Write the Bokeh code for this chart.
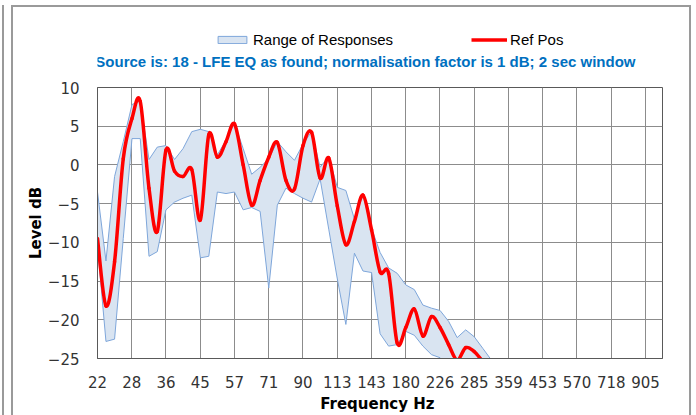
import math
from bokeh.plotting import figure
from bokeh.layouts import column
from bokeh.models import Range1d, FixedTicker, Legend, LegendItem, Label
from bokeh.embed import file_html
from bokeh.resources import INLINE

# ---- data ----
freq_hz = [22.0, 23.3, 24.7, 26.2, 27.8, 29.4, 31.2, 33.0, 35.0, 37.1, 39.3, 41.7,
           44.2, 46.8, 49.6, 52.6, 55.7, 59.1, 62.6, 66.3, 70.3, 74.5, 79.0, 83.7,
           88.7, 94.0, 99.6, 105.6, 111.9, 118.6, 125.7, 133.2, 141.2, 149.6, 158.5,
           168.0, 178.1, 188.7, 200.0, 212.0, 224.7, 238.1, 252.3, 267.4, 283.4,
           300.4, 318.3]

range_upper = [-3.5, -12.4, -1.5, 3.0, 7.8, 8.3, 0.7, 2.3, 2.5, 0.7, 2.1, 4.3,
               4.6, 4.3, 1.3, 3.2, 5.4, 2.1, -1.2, -0.3, 0.8, 3.0, 1.7, 0.6,
               2.7, 4.3, -0.3, 1.1, -2.9, -3.3, -7.0, -3.9, -8.2, -11.3, -13.3,
               -14.0, -15.5, -16.1, -18.1, -18.5, -18.8, -20.2, -22.3, -21.3, -22.2,
               -23.7, -25.2]

range_lower = [-10.5, -22.8, -22.5, -9.5, 3.4, 3.4, -11.8, -11.2, -5.8, -4.8, -4.3, -3.9,
               -12.0, -11.8, -3.5, -3.7, -3.5, -5.8, -5.5, -6.0, -15.9, -5.2, -3.0, -3.7,
               -4.3, -4.8, -1.8, -8.3, -14.7, -20.6, -11.4, -13.7, -13.9, -21.8, -23.4,
               -23.2, -21.5, -22.0, -23.4, -24.5, -24.9, -26.0, -26.0, -26.0, -26.0,
               -26.0, -26.0]

ref_pos = [-9.5, -18.2, -12.5, 0.8, 6.0, 8.2, -3.0, -8.6, 1.9, -0.8, -1.5, -0.6,
           -7.1, 3.9, 1.0, 3.0, 5.3, 0.0, -5.2, -2.0, 1.0, 2.9, -2.0, -3.1,
           2.5, 4.2, -1.7, 0.9, -5.3, -10.3, -7.3, -3.9, -8.4, -13.8, -14.0,
           -23.0, -21.0, -18.6, -22.1, -19.6, -21.0, -23.2, -25.2, -23.6, -24.1,
           -25.3, -25.5]

tick_labels = ["22", "28", "36", "45", "57", "71", "90", "113", "143", "180",
               "226", "285", "359", "453", "570", "718", "905"]
y_ticks = [-25, -20, -15, -10, -5, 0, 5, 10]

title_text = "Source is: 18 - LFE EQ as found; normalisation  factor is 1 dB; 2 sec window"

BAND_FILL = "#D9E4F1"
BAND_LINE = "#7EA6DA"
REF_COLOR = "#FF0000"
BOX_LINE = "#9A9A9A"

# tick positions: evenly spaced on the log axis (one per third-octave label)
tick_pos = [22.0 * (905.0 / 22.0) ** (i / 16.0) for i in range(len(tick_labels))]

band_x = freq_hz + freq_hz[::-1]
band_y = range_upper + range_lower[::-1]

W = 676          # inner width of the chart box
LEFT = 84        # frame offset from the box's inner left edge
RIGHT = 27

# ---------------- header: legend + subtitle ----------------
h = figure(width=W, height=71, x_range=Range1d(0, 1), y_range=Range1d(0, 1),
           output_backend="svg", toolbar_location=None,
           x_axis_location=None, y_axis_location=None,
           min_border_left=LEFT, min_border_right=RIGHT,
           min_border_top=0, min_border_bottom=0)
h.outline_line_color = None
h.xgrid.visible = False
h.ygrid.visible = False
# legend-key renderers: the same series, lying outside this header's visible range
h_band = h.patch(band_x, band_y, fill_color=BAND_FILL, line_color=BAND_LINE, line_width=1)
h_ref = h.line(freq_hz, ref_pos, line_color=REF_COLOR, line_width=3.5)
legend = Legend(items=[LegendItem(label="Range of Responses", renderers=[h_band]),
                       LegendItem(label="Ref Pos", renderers=[h_ref])],
                orientation="horizontal", location=(117, 30),
                glyph_width=36, glyph_height=9, label_standoff=3, spacing=78,
                padding=0, margin=0, border_line_color=None,
                background_fill_alpha=0,
                label_text_font="Liberation Sans", label_text_font_size="15px",
                label_text_color="#000000")
h.add_layout(legend, "center")
h.add_layout(Label(x=270, y=17, x_units="screen", y_units="screen", text=title_text,
                   text_align="center", text_baseline="middle",
                   text_font="Liberation Sans", text_font_size="15px",
                   text_font_style="bold", text_color="#0070C0"))

# ---------------- main chart ----------------
p = figure(width=W, height=337, x_axis_type="log",
           x_range=Range1d(22, 1016), y_range=Range1d(-25, 10),
           output_backend="svg", toolbar_location=None,
           min_border_left=LEFT, min_border_right=RIGHT, min_border_top=9,
           min_border_bottom=56)

p.background_fill_color = "white"
p.border_fill_color = "white"
p.outline_line_color = "#595959"
p.outline_line_width = 1

p.xaxis.ticker = FixedTicker(ticks=tick_pos)
p.xaxis.major_label_overrides = {t: lab for t, lab in zip(tick_pos, tick_labels)}
p.yaxis.ticker = FixedTicker(ticks=y_ticks)
for ax in (p.xaxis, p.yaxis):
    ax.major_tick_line_color = None
    ax.minor_tick_line_color = None
    ax.axis_line_color = "#595959"
    ax.major_label_text_font = "DejaVu Sans"
    ax.major_label_text_font_size = "15px"
    ax.major_label_text_color = "#333333"
    ax.axis_label_text_font = "DejaVu Sans"
    ax.axis_label_text_font_size = "15px"
    ax.axis_label_text_font_style = "bold"
    ax.axis_label_text_color = "#000000"
p.xaxis.major_label_standoff = 11
p.yaxis.major_label_standoff = 12
p.xaxis.axis_label = "Frequency  Hz"
p.yaxis.axis_label = "Level dB"
p.xaxis.axis_label_standoff = 4
p.yaxis.axis_label_standoff = 0

p.xgrid.ticker = FixedTicker(ticks=tick_pos)
p.ygrid.ticker = FixedTicker(ticks=y_ticks)
for g in (p.xgrid, p.ygrid):
    g.grid_line_color = "#8C8C8C"
    g.grid_line_width = 1

# range band as a closed polygon
p.patch(band_x, band_y, fill_color=BAND_FILL, line_color=BAND_LINE, line_width=1)

# smoothed reference line (Catmull-Rom style bezier, computed on the log axis)
lx = [math.log(f) for f in freq_hz]
n = len(freq_hz)
x0, y0, x1, y1, cx0, cy0, cx1, cy1 = [], [], [], [], [], [], [], []
for i in range(n - 1):
    a = max(i - 1, 0)
    d = min(i + 2, n - 1)
    x0.append(freq_hz[i]); y0.append(ref_pos[i])
    x1.append(freq_hz[i + 1]); y1.append(ref_pos[i + 1])
    cx0.append(math.exp(lx[i] + (lx[i + 1] - lx[a]) / 6.0))
    cy0.append(ref_pos[i] + (ref_pos[i + 1] - ref_pos[a]) / 6.0)
    cx1.append(math.exp(lx[i + 1] - (lx[d] - lx[i]) / 6.0))
    cy1.append(ref_pos[i + 1] - (ref_pos[d] - ref_pos[i]) / 6.0)
p.bezier(x0=x0, y0=y0, x1=x1, y1=y1, cx0=cx0, cy0=cy0, cx1=cx1, cy1=cy1,
         line_color=REF_COLOR, line_width=3.5, line_cap="round")

layout = column(h, p, spacing=0,
                styles={"margin-left": "11px", "margin-top": "5px",
                        "border-top": f"2px solid {BOX_LINE}",
                        "border-left": f"2px solid {BOX_LINE}",
                        "border-right": f"2px solid {BOX_LINE}",
                        "box-shadow": f"-7px 0 0 0 #FFFFFF, -9px 0 0 0 {BOX_LINE}"})
open("out.html", "w").write(file_html(layout, INLINE))
